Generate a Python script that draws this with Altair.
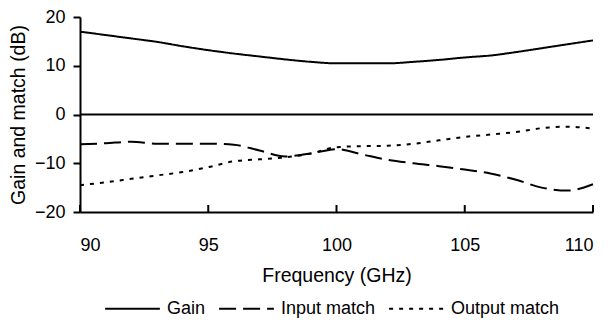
import altair as alt
import pandas as pd

freq = list(range(90, 111))
gain = [17.0, 16.3, 15.6, 14.9, 14.0, 13.2, 12.5, 11.9, 11.3, 10.8, 10.5,
        10.5, 10.5, 10.8, 11.2, 11.7, 12.1, 12.8, 13.6, 14.4, 15.2]
input_match = [-6.1, -5.9, -5.6, -6.0, -6.0, -6.0, -6.2, -7.4, -8.6, -8.0, -7.1,
               -8.2, -9.3, -10.0, -10.6, -11.3, -12.1, -13.4, -15.0, -15.6, -14.3]
output_match = [-14.5, -13.9, -13.2, -12.5, -11.8, -10.8, -9.6, -9.2, -8.8, -8.0, -6.7,
                -6.5, -6.4, -6.0, -5.3, -4.6, -4.1, -3.6, -2.8, -2.5, -2.9]
series_names = ["Gain", "Input match", "Output match"]
x_ticks = [90, 95, 100, 105, 110]
y_ticks = [-20, -10, 0, 10, 20]

rows = []
for name, vals in zip(series_names, [gain, input_match, output_match]):
    for f, v in zip(freq, vals):
        rows.append({"freq": f, "value": v, "series": name})
df = pd.DataFrame(rows)

FONT = "Liberation Sans"
W, H = 513, 195

lines = alt.Chart(df).mark_line(interpolate="monotone", strokeWidth=2, color="black").encode(
    x=alt.X("freq:Q", scale=alt.Scale(domain=[90, 110], nice=False, zero=False),
            axis=alt.Axis(values=x_ticks, title="Frequency (GHz)", grid=False, ticks=False,
                          labelPadding=24, labelFontSize=18, titleFontSize=19.5,
                          titleFontWeight="normal", titlePadding=12,
                          domainColor="black", domainWidth=2, labelColor="black",
                          titleColor="black", labelFont=FONT, titleFont=FONT)),
    y=alt.Y("value:Q", scale=alt.Scale(domain=[-20, 20], nice=False),
            axis=alt.Axis(values=y_ticks, title="Gain and match (dB)", grid=False,
                          tickSize=7, tickWidth=2, tickColor="black", labelPadding=8,
                          labelFontSize=18, titleFontSize=19.5, titleFontWeight="normal",
                          titlePadding=6, domainColor="black", domainWidth=2,
                          labelColor="black", titleColor="black",
                          labelFont=FONT, titleFont=FONT)),
    strokeDash=alt.StrokeDash(
        "series:N",
        scale=alt.Scale(domain=series_names, range=[[1, 0], [17, 7], [4, 6]]),
        legend=alt.Legend(orient="none", legendX=24, legendY=263, direction="horizontal",
                          title=None, symbolType="stroke", symbolSize=3000,
                          symbolStrokeWidth=2, symbolStrokeColor="black",
                          labelFontSize=18, labelFont=FONT, labelColor="black",
                          labelOffset=6, columnPadding=9)),
)

zero = alt.Chart(pd.DataFrame({"y": [0]})).mark_rule(color="black", strokeWidth=2).encode(
    y="y:Q")

xt = alt.Chart(pd.DataFrame({"tick": x_ticks})).mark_rule(color="black", strokeWidth=2).encode(
    x="tick:Q", y=alt.value(H), y2=alt.value(H - 7))

chart = alt.layer(lines, zero, xt).properties(
    width=W, height=H,
    autosize=alt.AutoSizeParams(type="none"),
    padding={"left": 72, "top": 9, "right": 9, "bottom": 107},
).configure_view(stroke=None)

chart.save("out.html", embed_options={"renderer": "svg", "actions": False})
